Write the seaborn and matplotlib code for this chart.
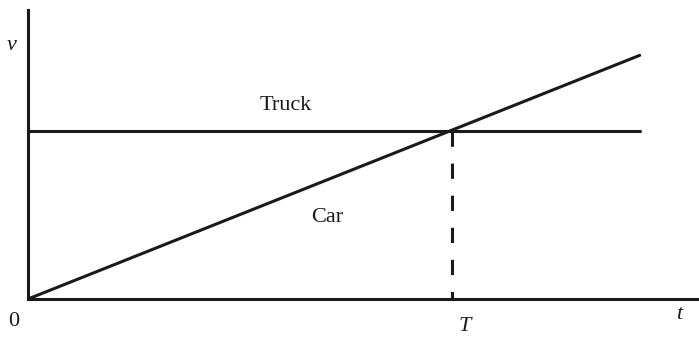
import numpy as np
import pandas as pd
import matplotlib
matplotlib.use('Agg')
import matplotlib.pyplot as plt
import seaborn as sns

# velocity-time sketch, units: T = 1, truck speed = 1
t_car = [0.0, 1.443]
v_car = [0.0, 1.45]
t_truck = [0.0, 1.443]
v_truck = [1.0, 1.0]
T_cross = 1.0
x_max = 1.583
y_max = 1.72

sns.set_style('white')
plt.rcParams['font.family'] = ['Liberation Serif', 'DejaVu Serif']

fig = plt.figure(figsize=(6.99, 3.37), dpi=100)
ax = fig.add_axes([28 / 699, 38 / 337, 671 / 699, 289 / 337])

car = pd.DataFrame({'t': t_car, 'v': v_car})
truck = pd.DataFrame({'t': t_truck, 'v': v_truck})
sns.lineplot(data=car, x='t', y='v', ax=ax, color='#1a1a1a', lw=2.2)
sns.lineplot(data=truck, x='t', y='v', ax=ax, color='#1a1a1a', lw=2.2)
# dashed drop line at the crossing time, drawn top-down so a dash starts at the truck line
ax.plot([T_cross, T_cross], [1.0, 0], color='#1a1a1a', lw=2.2, dashes=(5.0, 5.5))

ax.set_xlim(0, x_max)
ax.set_ylim(0, y_max)
ax.set_xticks([])
ax.set_yticks([])
ax.set_xlabel('')
ax.set_ylabel('')
for side in ['top', 'right']:
    ax.spines[side].set_visible(False)
for side in ['left', 'bottom']:
    ax.spines[side].set_color('#1a1a1a')
    ax.spines[side].set_linewidth(2.2)

ax.text(0.608, 1.15, 'Truck', fontsize=16, ha='center', va='center', color='#1a1a1a')
ax.text(0.705, 0.487, 'Car', fontsize=16, ha='center', va='center', color='#1a1a1a')
ax.text(-0.038, 1.51, 'v', fontsize=16, style='italic', ha='center', va='center', color='#1a1a1a')
ax.text(-0.033, -0.135, '0', fontsize=16, ha='center', va='center', color='#1a1a1a')
ax.text(1.03, -0.165, 'T', fontsize=16, style='italic', ha='center', va='center', color='#1a1a1a')
ax.text(1.535, -0.095, 't', fontsize=16, style='italic', ha='center', va='center', color='#1a1a1a')

for txt in ax.texts:
    txt.set_clip_on(False)

fig.savefig('out.png', dpi=100)
